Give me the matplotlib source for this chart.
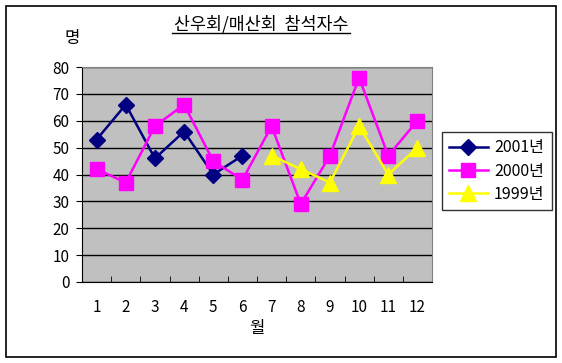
import matplotlib.pyplot as plt
import numpy as np
from matplotlib.patches import Rectangle

plt.rcParams["font.family"] = ["Noto Sans CJK KR", "DejaVu Sans"]

months = np.arange(1, 13)
month_labels = [str(m) for m in months]
y2001 = [53, 66, 46, 56, 40, 47]
y2000 = [42, 37, 58, 66, 45, 38, 58, 29, 47, 76, 47, 60]
y1999 = [47, 42, 37, 58, 40, 50]

fig = plt.figure(figsize=(5.62, 3.63), dpi=100)
fig.patches.append(Rectangle((6 / 562, 6 / 363), 550 / 562, 351 / 363,
                             transform=fig.transFigure, fill=False,
                             edgecolor="black", linewidth=1.2))

ax = fig.add_axes([82 / 562, 81 / 363, 350 / 562, 215 / 363])
ax.set_facecolor("#C0C0C0")

ax.plot(months[:6], y2001, color="#000080", marker="D", markersize=8,
        linewidth=1.8, label="2001년")
ax.plot(months, y2000, color="#FF00FF", marker="s", markersize=10.5,
        linewidth=1.8, label="2000년")
ax.plot(months[6:], y1999, color="#FFFF00", marker="^", markersize=11,
        linewidth=1.8, label="1999년")

ax.set_xlim(0.5, 12.5)
ax.set_ylim(0, 80)
ax.set_yticks(range(0, 81, 10))
ax.yaxis.grid(True, color="black", linewidth=1)
ax.set_axisbelow(True)
ax.set_xticks(months)
ax.set_xticklabels(month_labels)
ax.set_xticks(np.arange(0.5, 12.6, 1), minor=True)
ax.tick_params(axis="x", which="major", length=0, pad=12, labelsize=11)
ax.tick_params(axis="x", which="minor", direction="in", length=4)
ax.tick_params(axis="y", length=4, labelsize=11, pad=5)
for s in ["top", "right"]:
    ax.spines[s].set_color("#808080")

fig.text(261 / 562, 1 - 24 / 363, "산우회/매산회  참석자수", ha="center",
         va="center", fontsize=12.5)
fig.add_artist(plt.Line2D([172 / 562, 350 / 562], [1 - 33 / 363] * 2,
                          color="black", linewidth=1))
fig.text(72 / 562, 1 - 38 / 363, "명", ha="center", va="center", fontsize=12)
fig.text(257 / 562, 1 - 328 / 363, "월", ha="center", va="center", fontsize=12)

leg = fig.legend(loc="upper left", bbox_to_anchor=(442 / 562, 1 - 132 / 363),
                 frameon=True, fancybox=False, edgecolor="black",
                 fontsize=11.5, handlelength=2.4, borderpad=0.45,
                 labelspacing=0.4, handletextpad=0.4, borderaxespad=0)
leg.get_frame().set_linewidth(1)

fig.savefig("out.png", dpi=100)
